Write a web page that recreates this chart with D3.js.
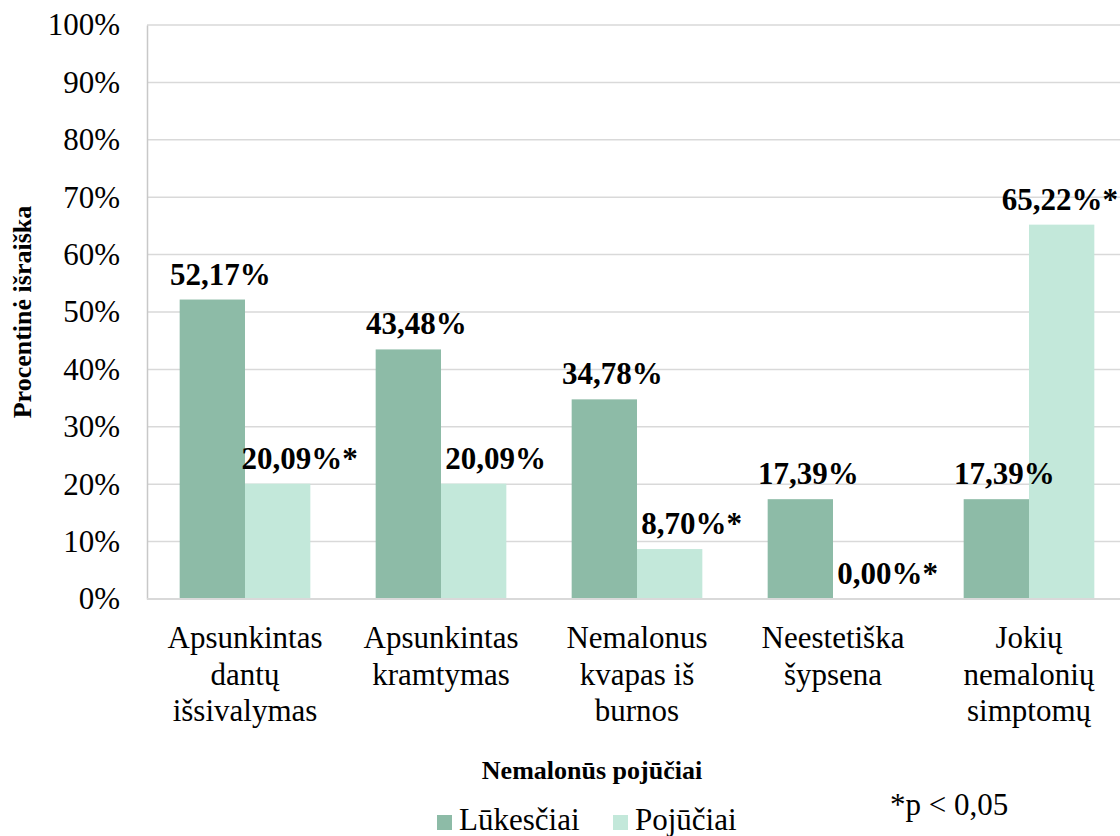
<!DOCTYPE html>
<html>
<head>
<meta charset="utf-8">
<script src="https://cdn.jsdelivr.net/npm/d3@7"></script>
<style>
  body { margin: 0; background: #fff; }
  svg { display: block; font-family: "Liberation Serif", "Times New Roman", serif; }
</style>
</head>
<body>
<svg id="chart" width="1120" height="836"></svg>
<script>
// data
const categories = [
  "Apsunkintas\ndantų\nišsivalymas",
  "Apsunkintas\nkramtymas",
  "Nemalonus\nkvapas iš\nburnos",
  "Neestetiška\nšypsena",
  "Jokių\nnemalonių\nsimptomų"
];
const seriesNames = ["Lūkesčiai", "Pojūčiai"];
const lukesciai = [0.5217, 0.4348, 0.3478, 0.1739, 0.1739];
const pojuciai = [0.2009, 0.2009, 0.0870, 0.0, 0.6522];
const pojuciaiSignif = [true, false, true, true, true];
const yTicks = [0, 0.1, 0.2, 0.3, 0.4, 0.5, 0.6, 0.7, 0.8, 0.9, 1.0];
const colors = ["#8dbba7", "#c3e8da"];

const svg = d3.select("#chart"),
  W = +svg.attr("width"),
  margin = { top: 25, left: 147, bottom: 237 },
  plotRight = 1127,
  plotBottom = +svg.attr("height") - margin.bottom;

const lt = d3.formatLocale({ decimal: ",", thousands: " ", grouping: [3], currency: ["", ""] });
const pct = lt.format(".2%");

const x0 = d3.scaleBand()
  .domain(d3.range(categories.length))
  .range([margin.left, plotRight])
  .paddingInner(1 / 3)
  .paddingOuter(1 / 6);
const x1 = d3.scaleBand().domain(seriesNames).range([0, x0.bandwidth()]);
const y = d3.scaleLinear().domain([0, 1]).range([plotBottom, margin.top]);

// gridlines
svg.append("g")
  .selectAll("line")
  .data(yTicks.slice(1))
  .join("line")
  .attr("x1", margin.left).attr("x2", plotRight)
  .attr("y1", d => y(d)).attr("y2", d => y(d))
  .attr("stroke", "#d9d9d9").attr("stroke-width", 1.5);

// y axis
const yAxis = svg.append("g")
  .attr("transform", "translate(" + margin.left + ",0)")
  .call(d3.axisLeft(y).tickValues(yTicks).tickFormat(lt.format(".0%")).tickSize(0).tickPadding(27));
yAxis.select(".domain").attr("stroke", "#c8c8c8").attr("stroke-width", 1.5);
yAxis.selectAll("text").attr("font-size", 31).attr("font-family", "Liberation Serif").attr("fill", "#000");

// bars
const rows = categories.map((c, i) => ({ i, vals: [lukesciai[i], pojuciai[i]] }));
const groups = svg.append("g").selectAll("g")
  .data(rows)
  .join("g")
  .attr("transform", d => "translate(" + x0(d.i) + ",0)");

groups.selectAll("rect")
  .data(d => d.vals.map((v, k) => ({ k, v, i: d.i })))
  .join("rect")
  .attr("x", d => x1(seriesNames[d.k]))
  .attr("width", x1.bandwidth())
  .attr("y", d => y(d.v))
  .attr("height", d => plotBottom - y(d.v))
  .attr("fill", d => colors[d.k]);

// bottom axis line
svg.append("line")
  .attr("x1", margin.left).attr("x2", plotRight)
  .attr("y1", plotBottom).attr("y2", plotBottom)
  .attr("stroke", "#d9d9d9").attr("stroke-width", 2);

// value labels
const labelData = [];
rows.forEach(r => r.vals.forEach((v, k) => labelData.push({
  i: r.i, k, v,
  text: pct(v) + (k === 1 && pojuciaiSignif[r.i] ? "*" : "")
})));
svg.append("g").selectAll("text")
  .data(labelData)
  .join("text")
  .attr("font-size", 31)
  .attr("font-weight", "bold")
  .attr("text-anchor", "middle")
  .attr("y", d => y(d.v) - 15)
  .text(d => d.text)
  .each(function (d) {
    const w = this.getComputedTextLength();
    let cx = x0(d.i) + x1(seriesNames[d.k]) + x1.bandwidth() / 2 + (d.k === 0 ? 8 : 22);
    if (cx + w / 2 > W - 2) cx = W - 2 - w / 2;
    d3.select(this).attr("x", cx);
  });

// category labels
svg.append("g").selectAll("text")
  .data(categories)
  .join("text")
  .attr("font-size", 31)
  .attr("text-anchor", "middle")
  .attr("x", (d, i) => x0(i) + x0.bandwidth() / 2)
  .attr("y", 648)
  .each(function (d) {
    d.split("\n").forEach((line, j) => {
      d3.select(this).append("tspan")
        .attr("x", d3.select(this).attr("x"))
        .attr("dy", j === 0 ? 0 : 36.5)
        .text(line);
    });
  });

// axis titles
svg.append("text")
  .attr("x", 592).attr("y", 779)
  .attr("text-anchor", "middle")
  .attr("font-size", 26).attr("font-weight", "bold")
  .text("Nemalonūs pojūčiai");

svg.append("text")
  .attr("transform", "translate(31,312) rotate(-90)")
  .attr("text-anchor", "middle")
  .attr("font-size", 26).attr("font-weight", "bold")
  .text("Procentinė išraiška");

// legend
const legend = svg.append("g").attr("transform", "translate(437,830)");
const legX = [0, 176];
seriesNames.forEach((s, k) => {
  legend.append("rect")
    .attr("x", legX[k]).attr("y", -15)
    .attr("width", 15).attr("height", 15)
    .attr("fill", colors[k]);
  legend.append("text")
    .attr("x", legX[k] + 22).attr("y", 0)
    .attr("font-size", 31)
    .text(s);
});

svg.append("text")
  .attr("x", 890).attr("y", 815)
  .attr("font-size", 31)
  .text("*p < 0,05");
</script>
</body>
</html>
